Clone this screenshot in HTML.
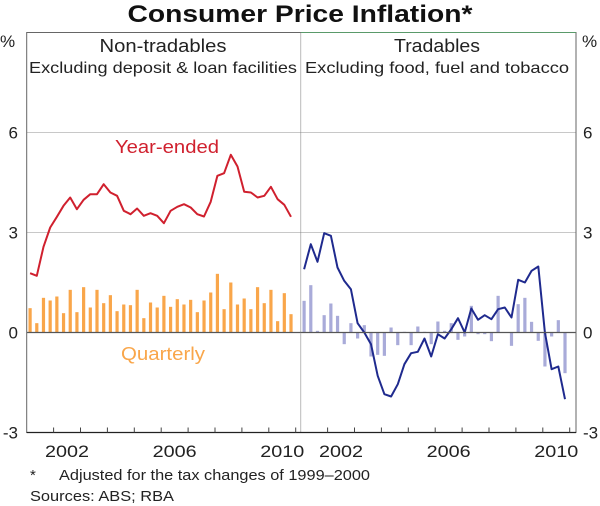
<!DOCTYPE html>
<html><head><meta charset="utf-8"><style>
html,body{margin:0;padding:0;background:#fff;}
svg{display:block;font-family:"Liberation Sans",Arial,sans-serif;}
</style></head><body>
<svg id="chart" width="600" height="506" viewBox="0 0 600 506">
<text x="300" y="22" text-anchor="middle" font-size="24" font-weight="bold" fill="#111" textLength="345" lengthAdjust="spacingAndGlyphs">Consumer Price Inflation*</text>
<g id="grid"></g>
<g id="bars"></g>
<g id="lines"></g>
<g id="axes"></g>
<text x="0" y="47" font-size="17" fill="#222">%</text>
<text x="582" y="47" font-size="17" fill="#222">%</text>
<text x="163" y="52" text-anchor="middle" font-size="18" fill="#222" textLength="127" lengthAdjust="spacingAndGlyphs">Non-tradables</text>
<text x="163" y="73" text-anchor="middle" font-size="16" fill="#222" textLength="268" lengthAdjust="spacingAndGlyphs">Excluding deposit &amp; loan facilities</text>
<text x="437" y="52" text-anchor="middle" font-size="18" fill="#222" textLength="86" lengthAdjust="spacingAndGlyphs">Tradables</text>
<text x="437" y="73" text-anchor="middle" font-size="16" fill="#222" textLength="264" lengthAdjust="spacingAndGlyphs">Excluding food, fuel and tobacco</text>
<text x="167" y="153" text-anchor="middle" font-size="18" fill="#d0202e" textLength="104" lengthAdjust="spacingAndGlyphs">Year-ended</text>
<text x="163" y="360" text-anchor="middle" font-size="18" fill="#f9a64a" textLength="84" lengthAdjust="spacingAndGlyphs">Quarterly</text>
<text x="30" y="480" font-size="15" fill="#222">*</text>
<text x="59" y="480" font-size="15" fill="#222" textLength="311" lengthAdjust="spacingAndGlyphs">Adjusted for the tax changes of 1999–2000</text>
<text x="30" y="501" font-size="15" fill="#222" textLength="144" lengthAdjust="spacingAndGlyphs">Sources: ABS; RBA</text>
</svg>
<script>
const yTicks = [-3, 0, 3, 6];
const yearLabels = ["2002", "2006", "2010"];
const yearLabelIdx = [1, 5, 9];
const ntYearEnded = [1.78,1.7,2.57,3.15,3.47,3.8,4.05,3.7,3.98,4.15,4.15,4.45,4.2,4.1,3.65,3.55,3.72,3.5,3.58,3.5,3.28,3.65,3.77,3.85,3.75,3.55,3.48,3.92,4.7,4.78,5.33,4.98,4.22,4.2,4.05,4.1,4.37,4.0,3.83,3.47];
const ntQuarterly = [0.73,0.28,1.04,0.96,1.08,0.58,1.28,0.61,1.36,0.75,1.28,0.88,1.12,0.64,0.84,0.82,1.28,0.43,0.9,0.75,1.1,0.77,1.0,0.84,0.98,0.61,0.96,1.2,1.76,0.7,1.5,0.84,1.02,0.7,1.36,0.88,1.28,0.34,1.18,0.55];
const trYearEnded = [1.9,2.65,2.12,2.98,2.9,1.95,1.55,1.3,0.28,0,-0.35,-1.3,-1.85,-1.92,-1.55,-0.95,-0.62,-0.58,-0.18,-0.72,-0.05,-0.18,0.1,0.43,0,0.72,0.38,0.52,0.4,0.7,0.75,0.45,1.58,1.5,1.85,1.98,0,-1.1,-1.02,-2.0];
const trQuarterly = [0.95,1.42,0.05,0.52,0.87,0.5,-0.35,0.28,-0.18,0.22,-0.72,-0.67,-0.7,0.15,-0.38,0.02,-0.38,0.18,0.02,-0.35,0.33,0.05,0.28,-0.22,-0.12,0.8,-0.05,-0.05,-0.26,1.1,0,-0.4,0.85,1.04,0.32,-0.25,-1.02,-0.12,0.37,-1.22];

const NS='http://www.w3.org/2000/svg';
const top_=32.5, bot=432.5, yMin=-3, yMax=9;
const panels=[{x0:26.7,x1:300.7},{x0:300.7,x1:576}];
const qW=6.69;
function y(v){return bot-(v-yMin)/(yMax-yMin)*(bot-top_);}
function x(p,i){return panels[p].x0+3.4+i*qW;}
function yearX(p,k){return panels[p].x0+k*26.9;}
function mk(tag,attrs,parent){const e=document.createElementNS(NS,tag);for(const k in attrs)e.setAttribute(k,attrs[k]);document.getElementById(parent).appendChild(e);return e;}

yTicks.forEach(t=>{
  if(t===3||t===6){
    const g=mk('line',{x1:26.7,x2:576,y1:y(t),y2:y(t),stroke:'#c8c8c8','stroke-width':1},'grid');
    
    
  }
  const l=mk('text',{x:18,y:y(t)+6,'text-anchor':'end','font-size':17,fill:'#222'},'axes');
  l.textContent=t;
  
  
  const r=mk('text',{x:583,y:y(t)+6,'text-anchor':'start','font-size':17,fill:'#222'},'axes');
  r.textContent=t;
  
  
});

function bars(p,data,color,name){
  data.forEach((v,i)=>{
    const b=mk('rect',{x:x(p,i)-1.6,width:3.2,y:Math.min(y(v),y(0)),height:Math.abs(y(v)-y(0)),fill:color},'bars');
    
    
  });
}
bars(0,ntQuarterly,'#f9a64a','nontradables-quarterly');
bars(1,trQuarterly,'#a9abd9','tradables-quarterly');

function line(p,data,color,name){
  const pts=data.map((v,i)=>x(p,i).toFixed(1)+','+y(v).toFixed(1)).join(' ');
  const l=mk('polyline',{points:pts,fill:'none',stroke:color,'stroke-width':2,'stroke-linejoin':'round'},'lines');
  
  
}
line(0,ntYearEnded,'#d0202e','nontradables-year-ended-line');
line(1,trYearEnded,'#1f2a8e','tradables-year-ended-line');

const z=mk('line',{x1:26.7,x2:576,y1:y(0),y2:y(0),stroke:'#555','stroke-width':1.2},'axes');


const fr=mk('rect',{x:26.7,y:top_,width:576-26.7,height:bot-top_,fill:'none',stroke:'#666','stroke-width':1},'axes');


const tb=mk('line',{x1:300.7,x2:576,y1:top_,y2:top_,stroke:'#5a9a6a','stroke-width':1},'axes');


const dv=mk('line',{x1:300.7,x2:300.7,y1:top_,y2:bot,stroke:'#777','stroke-width':1,'stroke-dasharray':'1,1'},'axes');


const bx=mk('line',{x1:26.7,x2:576,y1:bot,y2:bot,stroke:'#222','stroke-width':1.2},'axes');


[0,1].forEach(p=>{
  for(let k=1;k<=10;k++){
    const t=mk('line',{x1:yearX(p,k),x2:yearX(p,k),y1:bot,y2:bot-5,stroke:'#444','stroke-width':1},'axes');
    
    
  }
  yearLabels.forEach((lab,j)=>{
    const k=yearLabelIdx[j];
    const t=mk('text',{x:(yearX(p,k)+yearX(p,k+1))/2,y:bot+24.5,'text-anchor':'middle','font-size':17,fill:'#222',textLength:44,lengthAdjust:'spacingAndGlyphs'},'axes');
    t.textContent=lab;
    
    
  });
});
</script>
</body></html>
